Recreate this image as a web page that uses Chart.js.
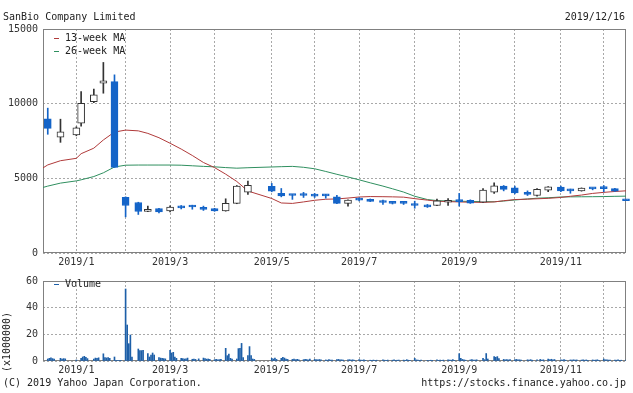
<!DOCTYPE html>
<html>
<head>
<meta charset="utf-8">
<script src="https://cdn.jsdelivr.net/npm/chart.js@4.4.1/dist/chart.umd.min.js"></script>
<style>
  body { margin: 0; background: #fff; }
  #wrap { position: relative; width: 633px; height: 393px; overflow: hidden; font: 10px "DejaVu Sans Mono", monospace; color: #222; }
  canvas { position: absolute; left: 0; }
  .t { position: absolute; white-space: pre; line-height: 12px; }
  .dash { display: inline-block; width: 5px; height: 1px; vertical-align: middle; margin-right: 6px; }
</style>
</head>
<body>
<div id="wrap">
  <canvas id="price" width="633" height="270" style="top:0"></canvas>
  <canvas id="volume" width="633" height="123" style="top:270px"></canvas>
  <div class="t" style="left:3px;top:11px">SanBio Company Limited</div>
  <div class="t" style="right:8px;top:11px">2019/12/16</div>
  <div class="t" style="left:54px;top:32px"><span class="dash" style="background:#b03a3a"></span>13-week MA</div>
  <div class="t" style="left:54px;top:45px"><span class="dash" style="background:#2f8f5f"></span>26-week MA</div>
  <div class="t" style="left:54px;top:278px"><span class="dash" style="background:#1d5fa8"></span>Volume</div>
  <div class="t" style="left:-28px;top:336px;width:70px;text-align:center;transform:rotate(-90deg)">(x1000000)</div>
  <div class="t" style="left:3px;top:377px">(C) 2019 Yahoo Japan Corporation.</div>
  <div class="t" style="right:7px;top:377px">https://stocks.finance.yahoo.co.jp</div>
</div>
<script>
// weekly candles, dated by first trading day of the week
const weekDates = ['2018-12-17','2018-12-25','2019-01-04','2019-01-07','2019-01-15','2019-01-21','2019-01-28',
  '2019-02-04','2019-02-12','2019-02-18','2019-02-25','2019-03-04','2019-03-11','2019-03-18','2019-03-25',
  '2019-04-01','2019-04-08','2019-04-15','2019-04-22','2019-05-07','2019-05-13','2019-05-20','2019-05-27',
  '2019-06-03','2019-06-10','2019-06-17','2019-06-24','2019-07-01','2019-07-08','2019-07-16','2019-07-22',
  '2019-07-29','2019-08-05','2019-08-13','2019-08-19','2019-08-26','2019-09-02','2019-09-09','2019-09-17',
  '2019-09-24','2019-09-30','2019-10-07','2019-10-15','2019-10-21','2019-10-28','2019-11-05','2019-11-11',
  '2019-11-18','2019-11-25','2019-12-02','2019-12-09','2019-12-16'];

const opens  = [8980,7750,7900,8690,10140,11380,11480,3720,3380,2780,2980,2820,3110,3090,3050,2980,2820,3320,4075,4460,3990,3860,3860,3850,3920,3760,3320,3620,3600,3390,3400,3400,3300,3180,3180,3400,3460,3530,3400,4075,4480,4360,4070,3850,4210,4410,4270,4160,4300,4330,4320,3560];
const highs  = [9700,8960,8450,10810,10970,12760,11930,3760,3400,3140,2990,3160,3180,3200,3140,2990,3630,4520,4810,4660,4320,3920,4060,3990,3930,3870,3560,3700,3620,3540,3420,3460,3470,3250,3610,3650,3990,3560,4320,4700,4520,4480,4160,4320,4440,4480,4280,4360,4360,4520,4330,3560];
const lows   = [7950,7410,7850,8500,10070,10700,5730,2420,2580,2760,2690,2750,2950,2930,2850,2790,2800,3300,3920,4100,3760,3590,3720,3720,3670,3300,3140,3490,3440,3250,3280,3250,3000,3050,3170,3180,3140,3320,3380,3990,4160,3960,3850,3800,4100,4100,4000,4140,4230,4100,4120,3500];
const closes = [8350,8120,8390,10030,10590,11530,5730,3180,2780,2930,2750,3070,3020,3080,2910,2820,3320,4480,4525,4140,3830,3850,3850,3810,3830,3320,3540,3540,3450,3380,3320,3320,3180,3090,3490,3460,3440,3340,4210,4500,4260,4030,3920,4260,4430,4160,4160,4340,4290,4310,4140,3500];

// moving averages: left edge, then one value per candle date
const maDates = ['2018-12-14'].concat(weekDates);
const ma13 = [5700,5900,6180,6340,6650,7020,7570,8100,8230,8180,8010,7720,7350,6960,6530,6060,5720,5280,4790,4150,3650,3350,3320,3420,3530,3600,3620,3680,3750,3780,3770,3760,3740,3640,3540,3470,3440,3420,3400,3390,3420,3500,3580,3605,3630,3660,3720,3800,3880,3990,4060,4120,4163];
const ma26 = [4390,4480,4680,4830,4900,5120,5370,5760,5880,5890,5890,5890,5890,5880,5840,5800,5770,5720,5680,5710,5760,5780,5800,5740,5640,5460,5270,5090,4900,4700,4480,4300,4080,3800,3580,3510,3480,3470,3450,3440,3430,3480,3550,3620,3670,3700,3750,3760,3765,3770,3780,3795,3807];

// daily volume (millions), grouped by the weeks above
const volumeByWeek = [
  [1.5,2.0,2.3,1.8,1.5],[2.0,1.5,1.8,1.6],[0.8],[2.0,3.0,3.5,2.8,1.8],[1.5,2.2,2.0,2.4],[5.4,2.5,2.3,2.6,2.0],
  [3.0,0.5,0.3,0.3,0.3],[54,27,13,19.5,3],[9.0,7.8,7.8,8.0],[5.5,3.0,4.5,6.0,4.5],[2.5,2.2,2.0,1.8,1.6],
  [8.0,6.0,6.5,3.0,2.0],[2.0,1.8,1.5,1.7,2.2],[1.3,1.5,1.2,1.6],[2.2,1.8,1.4,1.5,1.2],[1.0,1.2,0.9,1.0,1.3],
  [9.5,4.0,5.2,2.0,1.5],[1.5,9.3,9.5,13.2,2.5],[4.0,10.8,4.0,1.5,1.2],[2.0,1.5,2.2,1.2],[2.0,2.8,2.2,1.5,1.2],
  [1.2,1.5,1.0,1.3,0.9],[1.0,1.3,1.1,0.8,1.5],[1.2,1.0,0.9,1.1,0.8],[0.8,0.6,1.0,0.7,0.6],[1.0,1.2,0.8,0.9,0.7],
  [0.8,1.0,0.7,0.9,0.6],[1.0,0.7,0.6,0.8,0.5],[0.6,0.5,0.7,0.5,0.6],[0.8,0.6,0.5,0.7],[0.6,0.9,0.5,0.6,0.7],
  [0.7,0.5,1.0,0.6,0.5],[2.0,0.8,0.6,0.5,0.6],[0.5,0.4,0.6,0.5],[0.8,0.5,0.6,0.4,0.7],[0.9,0.7,0.6,1.0,0.5],
  [5.5,2.0,1.2,0.8,0.6],[0.8,1.0,0.7,0.6,0.9],[2.0,1.0,5.6,1.5],[3.3,2.8,3.3,1.8],[1.2,0.9,1.0,0.8,1.1],
  [1.0,1.2,0.8,0.9,0.7],[0.9,0.7,1.0,0.6],[0.8,1.2,0.7,0.9],[1.4,1.0,1.3,0.8,1.1],[0.9,0.7,1.0,0.6],
  [0.8,0.7,0.9,0.6,0.8],[0.7,0.9,0.6,0.8,0.5],[0.8,0.6,0.7,0.9,0.5],[1.5,0.9,0.8,0.7,0.6],[0.7,0.6,0.8,0.5,0.6],[0.6]
];
const holidays = ['2019-03-21','2019-07-15','2019-08-12','2019-09-16','2019-09-23','2019-10-14','2019-10-22','2019-11-04'];

// x axis: first candle of each month, labels on odd months
const monthTicks  = ['2019-01-04','2019-02-04','2019-03-04','2019-04-01','2019-05-07','2019-06-03','2019-07-01','2019-08-05','2019-09-02','2019-10-07','2019-11-05','2019-12-02'];
const monthLabels = ['2019/1','','2019/3','','2019/5','','2019/7','','2019/9','','2019/11',''];
const priceTicks  = [0, 5000, 10000, 15000];
const volumeTicks = [0, 20, 40, 60];

const RED = '#b03a3a', GREEN = '#2f8f5f', BLUE = '#1464c8', VOL = '#1d5fa8', INK = '#333';
const FONT = { family: 'DejaVu Sans Mono', size: 10 };
const day = s => { const [y, m, d] = s.split('-').map(Number); return Date.UTC(y, m - 1, d) / 86400000; };
const holidayDays = holidays.map(day);
const up = i => closes[i] >= opens[i];

const volumeData = [];
weekDates.forEach((s, i) => {
  let d = day(s);
  volumeByWeek[i].forEach(v => {
    while (holidayDays.includes(d)) d++;
    volumeData.push({ x: d, y: v });
    d++;
  });
});

const frame = {
  id: 'frame',
  beforeDatasetsDraw(chart) {
    const { ctx, chartArea: a } = chart;
    ctx.save();
    ctx.strokeStyle = '#808080';
    ctx.lineWidth = 1;
    ctx.strokeRect(Math.round(a.left) + 0.5, Math.round(a.top) + 0.5, Math.round(a.right - a.left) - 1, Math.round(a.bottom - a.top) - 1);
    ctx.restore();
  }
};

function xScale() {
  return {
    type: 'linear', min: day('2018-12-14'), max: day('2019-12-16'), offset: false, bounds: 'data',
    afterBuildTicks: s => { s.ticks = monthTicks.map(t => ({ value: day(t) })); },
    afterFit: s => { s.height = 17; },
    ticks: { autoSkip: false, maxRotation: 0, padding: 3, color: INK, font: FONT, callback: (v, i) => monthLabels[i] },
    grid: { color: '#a8a8a8', drawTicks: false, offset: false },
    border: { display: false, dash: [2, 2] },
  };
}

function yScale(ticks) {
  return {
    min: ticks[0], max: ticks[ticks.length - 1],
    afterBuildTicks: s => { s.ticks = ticks.map(v => ({ value: v })); },
    afterFit: s => { s.width = 43; },
    ticks: { padding: 5, color: INK, font: FONT, callback: v => String(v) },
    grid: { color: '#a8a8a8', drawTicks: false },
    border: { display: false, dash: [2, 2] },
  };
}

new Chart(document.getElementById('price'), {
  type: 'bar',
  data: {
    datasets: [
      {
        label: 'body', order: 0, grouped: false, clip: false,
        data: weekDates.map((d, i) => ({ x: day(d), y: [opens[i], closes[i]] })),
        backgroundColor: weekDates.map((d, i) => up(i) ? '#fff' : BLUE),
        borderColor: weekDates.map((d, i) => up(i) ? INK : BLUE),
        borderWidth: 1, borderSkipped: false, barThickness: 7, minBarLength: 2,
      },
      {
        label: 'wick', order: 1, grouped: false, clip: false,
        data: weekDates.map((d, i) => ({ x: day(d), y: [lows[i], highs[i]] })),
        backgroundColor: weekDates.map((d, i) => up(i) ? INK : BLUE),
        barThickness: 1,
      },
      {
        type: 'line', label: '13-week MA', order: 2,
        data: maDates.map((d, i) => ({ x: day(d), y: ma13[i] })),
        borderColor: RED, borderWidth: 1, pointRadius: 0, tension: 0,
      },
      {
        type: 'line', label: '26-week MA', order: 3,
        data: maDates.map((d, i) => ({ x: day(d), y: ma26[i] })),
        borderColor: GREEN, borderWidth: 1, pointRadius: 0, tension: 0,
      },
    ],
  },
  options: {
    responsive: false, animation: false, devicePixelRatio: 1,
    layout: { padding: { top: 29, right: 7, bottom: 0, left: 0 } },
    plugins: { legend: { display: false }, tooltip: { enabled: false } },
    scales: { x: xScale(), y: yScale(priceTicks) },
  },
  plugins: [frame],
});

new Chart(document.getElementById('volume'), {
  type: 'bar',
  data: {
    datasets: [{
      label: 'Volume', data: volumeData, backgroundColor: VOL, barThickness: 1, grouped: false,
    }],
  },
  options: {
    responsive: false, animation: false, devicePixelRatio: 1,
    layout: { padding: { top: 4, right: 7, bottom: 15, left: 0 } },
    plugins: { legend: { display: false }, tooltip: { enabled: false } },
    scales: { x: xScale(), y: yScale(volumeTicks) },
  },
  plugins: [frame],
});
</script>
</body>
</html>
